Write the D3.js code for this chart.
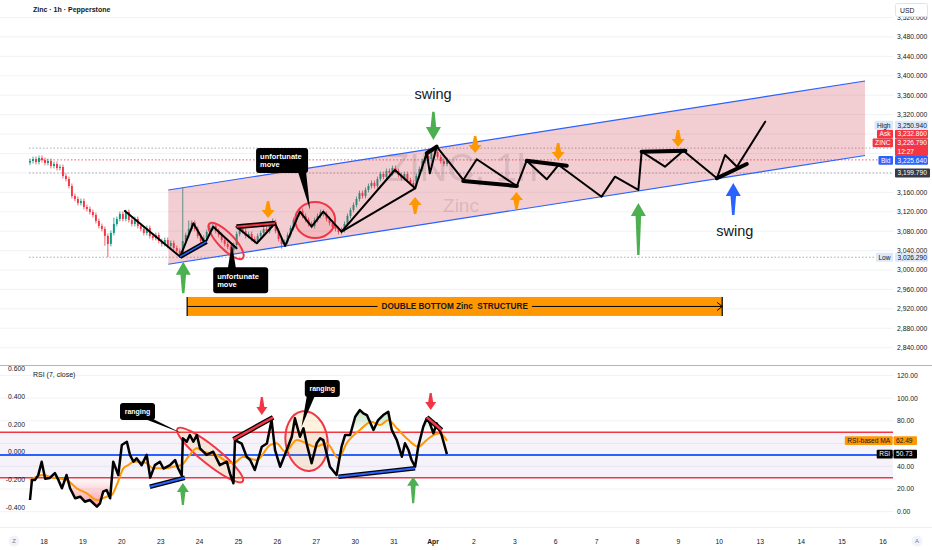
<!DOCTYPE html>
<html>
<head>
<meta charset="utf-8">
<script src="https://cdn.jsdelivr.net/npm/d3@7/dist/d3.min.js"></script>
<style>
html,body{margin:0;padding:0;background:#ffffff;overflow:hidden;}
svg{display:block;font-family:"Liberation Sans",Arial,sans-serif;}
</style>
</head>
<body>
<svg id="chart" width="932" height="550"></svg>
<script>
// ================= DATA =================
const title = "Zinc · 1h · Pepperstone";
const rsiTitle = "RSI (7, close)";
const dayLabels = ["18","19","20","23","24","25","26","27","30","31","Apr","2","3","6","7","8","9","10","13","14","15","16"];
const priceTicks = [2840,2880,2920,2960,3000,3040,3080,3120,3160,3200,3240,3280,3320,3360,3400,3440,3480,3520];
const rsiTicks = [0,20,40,60,80,100,120];
const leftTicks = [-0.4,-0.2,0,0.2,0.4,0.6];

// hourly candles (trading-day index t = candleStart + i*candleStep)
const candleStart = -0.36, candleStep = 0.077;
const firstOpen = 3221.0;
const closes = [
3224.5,3228.6,3222.4,3230.7,3226.6,3220.4,3224.5,3214.2,3218.3,3210.1,
3212.1,3193.6,3187.4,3173.0,3152.4,3146.3,3138.0,3142.1,3129.8,3125.7,
3119.5,3113.3,3101.0,3090.7,3084.5,3070.1,3053.6,3076.3,3094.8,3105.1,
3115.4,3105.1,3119.5,3103.0,3094.8,3105.1,3090.7,3084.5,3076.3,3086.6,
3070.1,3066.0,3072.1,3059.8,3053.6,3061.8,3049.5,3055.7,3045.4,3039.2,
3033.0,3059.8,3072.1,3084.5,3096.8,3084.5,3070.1,3059.8,3066.0,3078.3,
3086.6,3090.7,3080.4,3072.1,3061.8,3053.6,3047.4,3041.3,3051.6,3074.2,
3084.5,3080.4,3070.1,3074.2,3063.9,3059.8,3070.1,3076.3,3084.5,3080.4,
3092.7,3098.9,3080.4,3063.9,3053.6,3057.7,3072.1,3086.6,3103.0,3115.4,
3121.6,3111.3,3103.0,3094.8,3090.7,3103.0,3111.3,3119.5,3115.4,3105.1,
3096.8,3088.6,3084.5,3078.3,3082.4,3094.8,3111.3,3123.6,3133.9,3146.3,
3158.6,3152.4,3164.8,3173.0,3179.2,3173.0,3187.4,3197.7,3191.6,3203.9,
3199.8,3210.1,3203.9,3195.7,3189.5,3197.7,3185.4,3179.2,3173.0,3193.6,
3208.0,3224.5,3234.8,3228.6,3245.1,3243.0,3232.7,3224.5,3218.3,3226.79];
const wickHighs = [[51,3168.9],[134,3250.94],[28,3108.0],[53,3102.0],[81,3106.0]];
const wickLows = [[26,3026.29],[50,3027.5],[51,3031.0],[25,3050.0],[84,3044.0],[67,3036.0]];

const rsi = [[-0.36,10.3],[-0.31,27.9],[-0.23,28],[-0.15,32],[-0.06,44],[0.03,29],[0.15,29.7],[0.28,34],[0.37,28],[0.46,20.6],[0.58,32.3],[0.67,20.6],[0.80,11.8],[0.93,13.2],[1.05,8.8],[1.18,10.3],[1.36,4.4],[1.44,7.4],[1.52,17.6],[1.61,19.1],[1.70,11.8],[1.78,44],[1.91,32.3],[2.00,58.7],[2.13,61.6],[2.21,50],[2.30,44],[2.38,47],[2.51,41],[2.64,50],[2.73,30],[2.85,41],[2.98,44],[3.07,38],[3.24,41],[3.37,45.5],[3.45,38],[3.54,32],[3.57,64.6],[3.67,61.6],[3.75,67.5],[3.84,61.6],[3.93,67.5],[4.01,55.8],[4.18,50],[4.35,52.8],[4.52,41],[4.70,44],[4.78,33.8],[4.87,25],[4.91,63],[5.08,60],[5.21,48.4],[5.30,45.5],[5.42,36.7],[5.60,57.2],[5.73,60],[5.85,80.7],[5.94,54.3],[6.07,39.6],[6.24,54.3],[6.37,66],[6.45,82.2],[6.58,66],[6.67,73.4],[6.75,60.2],[6.88,42.6],[7.01,60.2],[7.10,64.6],[7.18,63],[7.35,39.6],[7.52,32.3],[7.65,57.2],[7.74,67.5],[7.87,67.5],[8.00,83.6],[8.12,89.5],[8.21,86.6],[8.30,85.1],[8.47,72],[8.59,80.7],[8.72,85.1],[8.85,88],[8.94,72],[9.07,63],[9.20,48.4],[9.28,60.2],[9.37,54.3],[9.45,45.5],[9.54,39.6],[9.62,57.2],[9.75,74.8],[9.84,82.2],[9.92,77.8],[10.01,69],[10.09,77.8],[10.21,67.5],[10.34,50.73]];
const rsiMA = [[-0.36,27.9],[-0.02,32.3],[0.15,30.8],[0.33,29.4],[0.58,27.9],[0.84,20.6],[1.10,16.2],[1.36,10.3],[1.61,13.2],[1.74,14.7],[1.87,23.5],[2.04,38.2],[2.17,41.1],[2.30,44],[2.47,44],[2.64,42.6],[2.81,38.2],[2.98,38.2],[3.15,38.2],[3.32,39.6],[3.54,41.1],[3.71,48.4],[3.93,55.8],[4.10,52.8],[4.27,51.4],[4.44,49.9],[4.70,44],[4.87,42.6],[5.12,48.4],[5.47,45.5],[5.81,58.7],[5.98,60.2],[6.20,52.8],[6.50,63.1],[6.75,60.2],[6.97,57.2],[7.27,60.2],[7.57,47],[7.78,60.2],[8.12,71.9],[8.42,79.2],[8.64,76.3],[8.85,80.7],[9.07,73.4],[9.37,63.1],[9.62,57.2],[9.84,63.1],[10.01,67.5],[10.17,69],[10.34,62.49]];
const rsiUpper = 70, rsiMid = 50, rsiLower = 30;
const rsiLast = 50.73, maLast = 62.49;

const currentPrice = 3226.79, prevClose = 3199.79, highValue = 3250.94, lowValue = 3026.29;
const stackLabels = [
  {name:"Bid", value:3225.64, rows:1, kind:"bid"},
  {name:"ZINC", value:3226.79, sub:"12:27", rows:2, kind:"red"},
  {name:"Ask", value:3232.86, rows:1, kind:"red"},
  {name:"High", value:3250.94, rows:1, kind:"light"}
];

// drawings (t = trading-day index, price)
const channelUpper = [[3.195,3164.8],[20.56,3389.2]];
const channelLower = [[3.195,3011.8],[20.56,3235.8]];
const zigzags = [
  [[2.08,3121.5],[3.50,3027.4]],
  [[3.50,3027.4],[3.84,3096.2],[4.14,3055.1],[4.35,3089.2],[4.95,3044.8]],
  [[4.95,3089.2],[5.47,3055.1],[5.94,3096.2],[6.20,3049.5],[6.58,3120.1],[6.88,3089.2],[7.18,3120.1],[7.65,3078.9],[9.02,3206.0],[9.54,3168.3],[9.84,3240.4],[9.92,3199.2],[10.09,3254.0]],
  [[7.65,3078.9],[9.54,3168.3]],
  [[10.09,3254.0],[10.74,3185.4],[11.07,3228.0],[12.05,3173.0],[12.29,3225.1],[12.78,3186.8],[13.07,3216.3],[14.12,3151.0],[14.45,3192.2],[15.02,3164.8],[15.10,3243.7],[15.67,3212.8],[16.12,3245.7],[16.94,3188.9],[17.14,3236.9],[17.43,3212.8],[18.12,3305.4]]
];
const boldSegs = [
  [[10.74,3183.3],[12.05,3173.0]],
  [[12.29,3225.1],[13.27,3214.8]],
  [[15.10,3243.7],[16.17,3245.7]],
  [[16.94,3188.9],[17.67,3218.3]],
  [[9.84,3240.4],[10.09,3254.0]]
];
const redCoreSegs = [[[4.95,3089.2],[5.94,3096.2]]];
const blueCoreSegs = [[[3.50,3027.4],[4.18,3058.3]]];
const mainEllipses = [[4.68,3059.8],[6.97,3103.0]];
const greenArrows = [[3.58,3017.2,2952.1],[15.02,3138.0,3031.0],[10.01,3267.7,3326.0]];
const blueArrows = [[17.34,3179.2,3113.3]];
const orangeMarks = [[5.76,3107.1,"down"],[9.54,3150.4,"up"],[11.03,3241.0,"down"],[13.06,3226.6,"down"],[15.99,3253.3,"down"],[12.04,3160.7,"up"]];
const swingLabels = [[10.0,3360.4,"swing"],[17.38,3078.3,"swing"]];
const structure = {t0:3.68, t1:17.07, pTop:2944.5, pBot:2905.4, text:"DOUBLE BOTTOM Zinc  STRUCTURE"};
const mainCallouts = [{t:6.84,p:3123.6,lines:["unfortunate","move"]},{t:4.83,p:3055.1,lines:["unfortunate","move"]}];
const rsiCallouts = [{t:3.54,v:69.0,lines:["ranging"]},{t:6.62,v:74.8,lines:["ranging"]}];
const rsiRedSegs = [[[4.87,63.7],[5.89,83.1]],[[9.84,83.1],[10.21,71.9]]];
const rsiBlueSegs = [[[7.57,30.8],[9.54,38.2]],[[2.72,22.0],[3.62,29.9]]];
const rsiEllipses = [[4.27,49.9],[6.75,62.2]];
const rsiRedArrows = [[5.60,85.1,100.9],[9.94,89.5,104.5]];
const rsiGreenArrows = [[3.57,25.3,5.9],[9.49,30.8,7.4]];

// ================= LAYOUT / STYLE =================
const PR = 893;
const TXT = "#131722";
const FS = 6.8;
const mainEllipseStyle = [{rx:24,ry:8,rot:46,fill:"rgba(242,54,69,0.06)"},{rx:20,ry:18,rot:0,fill:"rgba(242,54,69,0.12)"}];
const rsiEllipseStyle = [{rx:42,ry:9,rot:39,fill:"rgba(255,152,0,0.13)"},{rx:21,ry:30,rot:-8,fill:"rgba(255,152,0,0.13)"}];
const mainCalloutBoxes = [{dx:-54,dy:-62,w:52,h:25},{dx:-18.7,dy:24,w:55,h:26}];
const rsiCalloutBoxes = [{dx:-61.7,dy:-30.3,w:35,h:17},{dx:3.3,dy:-46.7,w:35,h:17}];

const svg = d3.select("#chart");
const x = d3.scaleLinear().domain([0,10,21]).range([44,433,883]);
const y = d3.scaleLinear().domain([2840,3520]).range([347.7,17.5]);
const yR = d3.scaleLinear().domain([0,120]).range([511.7,375.4]);
const yL = d3.scaleLinear().domain([-0.4,0.6]).range([507.3,369]);
const fmtP = d3.format(",.3f");

const defs = svg.append("defs");
defs.append("clipPath").attr("id","clipMain").append("rect").attr("x",0).attr("y",0).attr("width",PR).attr("height",365);
defs.append("clipPath").attr("id","clipRsi").append("rect").attr("x",0).attr("y",366).attr("width",PR).attr("height",161);
defs.append("clipPath").attr("id","clipOB").append("rect").attr("x",0).attr("y",yR(120)).attr("width",PR).attr("height",yR(rsiUpper)-yR(120));
defs.append("clipPath").attr("id","clipOS").append("rect").attr("x",0).attr("y",yR(rsiLower)).attr("width",PR).attr("height",yR(0)-yR(rsiLower));
const gGreen = defs.append("linearGradient").attr("id","gradOB").attr("gradientUnits","userSpaceOnUse").attr("x1",0).attr("x2",0).attr("y1",yR(100)).attr("y2",yR(rsiUpper));
gGreen.append("stop").attr("offset",0).attr("stop-color","rgba(76,175,80,0.6)");
gGreen.append("stop").attr("offset",1).attr("stop-color","rgba(76,175,80,0)");
const gRed = defs.append("linearGradient").attr("id","gradOS").attr("gradientUnits","userSpaceOnUse").attr("x1",0).attr("x2",0).attr("y1",yR(rsiLower)).attr("y2",yR(0));
gRed.append("stop").attr("offset",0).attr("stop-color","rgba(242,54,69,0)");
gRed.append("stop").attr("offset",1).attr("stop-color","rgba(242,54,69,0.6)");

svg.append("rect").attr("width",932).attr("height",550).attr("fill","#ffffff");

const lineP = d3.line().x(d=>x(d[0])).y(d=>y(d[1]));
const lineR = d3.line().x(d=>x(d[0])).y(d=>yR(d[1]));

function arrowPath(cx, yTip, yTail, headLen, headHalf, shaftHalf, tailHalf){
  const d = yTail > yTip ? 1 : -1;
  const yb = yTip + d*headLen;
  return `M${cx},${yTip}L${cx+headHalf},${yb}L${cx+shaftHalf},${yb}L${cx+tailHalf},${yTail}L${cx-tailHalf},${yTail}L${cx-shaftHalf},${yb}L${cx-headHalf},${yb}Z`;
}
function drawCallout(g, tx, ty, box, lines, fs, center){
  const bx = tx+box.dx, by = ty+box.dy;
  const below = ty > by + box.h;
  const cx = Math.max(bx+6, Math.min(bx+box.w-6, tx));
  const baseY = below ? by+box.h-1 : by+1;
  g.append("path").attr("d",`M${cx-4},${baseY}L${tx},${ty}L${cx+4},${baseY}Z`).attr("fill","#000");
  g.append("rect").attr("x",bx).attr("y",by).attr("width",box.w).attr("height",box.h).attr("rx",3).attr("fill","#000");
  const lh = fs*1.15;
  const start = by + box.h/2 - (lines.length-1)*lh/2 + fs*0.35;
  lines.forEach((s,k)=>{
    g.append("text").attr("x", center ? bx+box.w/2 : bx+4).attr("text-anchor", center?"middle":"start")
      .attr("y", start + k*lh).attr("font-size",fs).attr("font-weight","bold").attr("fill","#fff").text(s);
  });
}

// ================= MAIN PANE =================
const gMain = svg.append("g").attr("clip-path","url(#clipMain)");
gMain.selectAll("line.hg").data(priceTicks).join("line").attr("class","hg")
  .attr("x1",0).attr("x2",PR).attr("y1",d=>y(d)).attr("y2",d=>y(d)).attr("stroke","#f0f2f6").attr("stroke-width",1);

// watermark
gMain.append("text").attr("x",462).attr("y",181).attr("text-anchor","middle").attr("font-size",38)
  .attr("fill","#787b86").attr("fill-opacity",0.24).text("ZINC, 1h");
gMain.append("text").attr("x",461).attr("y",212).attr("text-anchor","middle").attr("font-size",19)
  .attr("fill","#787b86").attr("fill-opacity",0.24).text("Zinc");

// candles
const hiMap = new Map(wickHighs), loMap = new Map(wickLows);
const candles = closes.map((c,i)=>{
  const o = i ? closes[i-1] : firstOpen;
  return {t:candleStart+i*candleStep, o, c,
    h: hiMap.has(i) ? hiMap.get(i) : Math.max(o,c)+5,
    l: loMap.has(i) ? loMap.get(i) : Math.min(o,c)-5};
});
const col = d => d.c >= d.o ? "#089981" : "#f23645";
const gc = gMain.append("g");
gc.selectAll("line").data(candles).join("line")
  .attr("x1",d=>x(d.t)).attr("x2",d=>x(d.t)).attr("y1",d=>y(d.h)).attr("y2",d=>y(d.l))
  .attr("stroke",col).attr("stroke-width",0.8);
gc.selectAll("rect").data(candles).join("rect")
  .attr("x",d=>x(d.t)-0.95).attr("width",1.9)
  .attr("y",d=>y(Math.max(d.o,d.c))).attr("height",d=>Math.max(0.8,Math.abs(y(d.o)-y(d.c))))
  .attr("fill",col);

// horizontal reference lines
const refLines = [[highValue,"#9598a1"],[currentPrice,"#f23645"],[prevClose,"#9598a1"],[lowValue,"#9598a1"]];
gMain.selectAll("line.ref").data(refLines).join("line").attr("class","ref")
  .attr("x1",x(candleStart)-1).attr("x2",PR).attr("y1",d=>y(d[0])).attr("y2",d=>y(d[0]))
  .attr("stroke",d=>d[1]).attr("stroke-width",1).attr("stroke-dasharray","1.5,2").attr("opacity",0.8);

// channel
const chPts = [channelUpper[0],channelUpper[1],channelLower[1],channelLower[0]];
gMain.append("path").attr("d", lineP(chPts)+"Z").attr("fill","rgba(205,60,80,0.26)");
[channelUpper, channelLower].forEach(l=>{
  gMain.append("path").attr("d",lineP(l)).attr("stroke","#2962ff").attr("stroke-width",1.2).attr("fill","none");
});

// ellipses
mainEllipses.forEach((e,i)=>{
  const s = mainEllipseStyle[i];
  gMain.append("ellipse").attr("cx",0).attr("cy",0).attr("rx",s.rx).attr("ry",s.ry)
    .attr("transform",`translate(${x(e[0])},${y(e[1])}) rotate(${s.rot})`)
    .attr("fill",s.fill).attr("stroke","#f23645").attr("stroke-width",2);
});

// zigzag drawings
zigzags.forEach(l=>{
  gMain.append("path").attr("d",lineP(l)).attr("fill","none").attr("stroke","#000").attr("stroke-width",2)
    .attr("stroke-linejoin","round").attr("stroke-linecap","round");
});
boldSegs.forEach(l=>{
  gMain.append("path").attr("d",lineP(l)).attr("fill","none").attr("stroke","#000").attr("stroke-width",4).attr("stroke-linecap","round");
});
redCoreSegs.forEach(l=>{
  gMain.append("path").attr("d",lineP(l)).attr("fill","none").attr("stroke","#000").attr("stroke-width",5);
  gMain.append("path").attr("d",lineP(l)).attr("fill","none").attr("stroke","#f23645").attr("stroke-width",2);
});
blueCoreSegs.forEach(l=>{
  gMain.append("path").attr("d",lineP(l)).attr("fill","none").attr("stroke","#000").attr("stroke-width",4.5);
  gMain.append("path").attr("d",lineP(l)).attr("fill","none").attr("stroke","#2962ff").attr("stroke-width",1.5);
});

// arrows
greenArrows.forEach(a=>{
  gMain.append("path").attr("d",arrowPath(x(a[0]),y(a[1]),y(a[2]),13,7.5,2.8,1.2)).attr("fill","#4caf50");
});
blueArrows.forEach(a=>{
  gMain.append("path").attr("d",arrowPath(x(a[0]),y(a[1]),y(a[2]),13,7.5,2.8,1.2)).attr("fill","#2962ff");
});
orangeMarks.forEach(a=>{
  const tip = y(a[1]);
  const tail = a[2]==="down" ? tip-17 : tip+17;
  gMain.append("path").attr("d",arrowPath(x(a[0]),tip,tail,8,6.5,3,1.2)).attr("fill","#ff9800");
});

// swing labels
swingLabels.forEach(s=>{
  gMain.append("text").attr("x",x(s[0])).attr("y",y(s[1])+4).attr("text-anchor","middle")
    .attr("font-size",14.5).attr("fill",TXT).text(s[2]);
});

// callouts
mainCallouts.forEach((c,i)=> drawCallout(gMain, x(c.t), y(c.p), mainCalloutBoxes[i], c.lines, 7.5, false));

// structure bar
{
  const x0 = x(structure.t0), x1 = x(structure.t1), yt = y(structure.pTop), yb = y(structure.pBot), ym = (yt+yb)/2;
  gMain.append("rect").attr("x",x0).attr("y",yt).attr("width",x1-x0).attr("height",yb-yt).attr("fill","#ff9800");
  const t = gMain.append("text").attr("x",(x0+x1)/2).attr("y",ym+3).attr("text-anchor","middle")
    .attr("font-size",8.2).attr("font-weight","bold").attr("fill","#131722").style("white-space","pre").text(structure.text);
  let tw = 158; try { tw = t.node().getComputedTextLength(); } catch(e){}
  const cxm = (x0+x1)/2;
  gMain.append("line").attr("x1",x0).attr("x2",cxm-tw/2-4).attr("y1",ym).attr("y2",ym).attr("stroke","#000").attr("stroke-width",1);
  gMain.append("line").attr("x1",cxm+tw/2+4).attr("x2",x1).attr("y1",ym).attr("y2",ym).attr("stroke","#000").attr("stroke-width",1);
  gMain.append("path").attr("d",`M${x1-5},${ym-4}L${x1},${ym}L${x1-5},${ym+4}`).attr("fill","none").attr("stroke","#000").attr("stroke-width",1);
  [x0,x1].forEach(xx=> gMain.append("line").attr("x1",xx).attr("x2",xx).attr("y1",yt).attr("y2",yb).attr("stroke","#000").attr("stroke-width",1.2));
}

// title
svg.append("text").attr("x",33).attr("y",11.5).attr("font-size",7).attr("font-weight","600").attr("fill",TXT).text(title);

// ================= RSI PANE =================
svg.append("line").attr("x1",0).attr("x2",932).attr("y1",365.5).attr("y2",365.5).attr("stroke","#b2b5be").attr("stroke-width",1);
const gR = svg.append("g").attr("clip-path","url(#clipRsi)");
gR.selectAll("line.rg").data(rsiTicks).join("line").attr("class","rg")
  .attr("x1",0).attr("x2",PR).attr("y1",d=>yR(d)).attr("y2",d=>yR(d)).attr("stroke","#f0f2f6");
gR.append("rect").attr("x",0).attr("width",PR).attr("y",yR(rsiUpper)).attr("height",yR(rsiLower)-yR(rsiUpper)).attr("fill","rgba(126,87,194,0.08)");
gR.append("line").attr("x1",0).attr("x2",PR).attr("y1",yR(rsiUpper)).attr("y2",yR(rsiUpper)).attr("stroke","#f23645").attr("stroke-width",1.5);
gR.append("line").attr("x1",0).attr("x2",PR).attr("y1",yR(rsiLower)).attr("y2",yR(rsiLower)).attr("stroke","#f23645").attr("stroke-width",1.5);
gR.append("line").attr("x1",0).attr("x2",PR).attr("y1",yR(rsiMid)).attr("y2",yR(rsiMid)).attr("stroke","#2962ff").attr("stroke-width",2);

// overbought / oversold fills
gR.append("path").attr("clip-path","url(#clipOB)")
  .attr("d", d3.area().x(d=>x(d[0])).y0(yR(rsiUpper)).y1(d=>yR(d[1]))(rsi)).attr("fill","url(#gradOB)");
gR.append("path").attr("clip-path","url(#clipOS)")
  .attr("d", d3.area().x(d=>x(d[0])).y0(yR(rsiLower)).y1(d=>yR(d[1]))(rsi)).attr("fill","url(#gradOS)");

rsiEllipses.forEach((e,i)=>{
  const s = rsiEllipseStyle[i];
  gR.append("ellipse").attr("cx",0).attr("cy",0).attr("rx",s.rx).attr("ry",s.ry)
    .attr("transform",`translate(${x(e[0])},${yR(e[1])}) rotate(${s.rot})`)
    .attr("fill",s.fill).attr("stroke","#f23645").attr("stroke-width",2);
});

gR.append("path").attr("d", d3.line().x(d=>x(d[0])).y(d=>yR(d[1])).curve(d3.curveMonotoneX)(rsiMA))
  .attr("fill","none").attr("stroke","#ff9800").attr("stroke-width",2);
gR.append("path").attr("d", lineR(rsi)).attr("fill","none").attr("stroke","#000").attr("stroke-width",2.5).attr("stroke-linejoin","round");

rsiRedSegs.forEach(l=>{
  gR.append("path").attr("d",lineR(l)).attr("stroke","#000").attr("stroke-width",5).attr("fill","none");
  gR.append("path").attr("d",lineR(l)).attr("stroke","#f23645").attr("stroke-width",2.5).attr("fill","none");
});
rsiBlueSegs.forEach(l=>{
  gR.append("path").attr("d",lineR(l)).attr("stroke","#000").attr("stroke-width",4.5).attr("fill","none");
  gR.append("path").attr("d",lineR(l)).attr("stroke","#2962ff").attr("stroke-width",2).attr("fill","none");
});
rsiRedArrows.forEach(a=>{
  gR.append("path").attr("d",arrowPath(x(a[0]),yR(a[1]),yR(a[2]),8,5.5,2.5,1)).attr("fill","#f23645");
});
rsiGreenArrows.forEach(a=>{
  gR.append("path").attr("d",arrowPath(x(a[0]),yR(a[1]),yR(a[2]),9,6,2.5,1)).attr("fill","#4caf50");
});
rsiCallouts.forEach((c,i)=> drawCallout(gR, x(c.t), yR(c.v), rsiCalloutBoxes[i], c.lines, 7, true));

svg.append("text").attr("x",33).attr("y",376.5).attr("font-size",7).attr("fill",TXT).text(rsiTitle);

// left axis (RSI pane)
svg.selectAll("text.lt").data(leftTicks).join("text").attr("class","lt")
  .attr("x",25).attr("y",d=>yL(d)+2.4).attr("text-anchor","end").attr("font-size",FS).attr("fill",TXT)
  .text(d=>d3.format(".3f")(d).replace("−","-"));

// ================= RIGHT AXIS =================
const rowH = 8.8;
let bottom = y(stackLabels[0].value) + rowH/2;
const gLab = svg.append("g");
const kindStyle = {bid:{bg:"#2962ff",fg:"#fff"}, red:{bg:"#f23645",fg:"#fff"}, light:{bg:"#dde9f8",fg:TXT}, dark:{bg:"#363a45",fg:"#fff"}};
function nameBox(name, top, h, st, rightX){
  const t = gLab.append("text").attr("y",top+h/2+2.3).attr("font-size",6.6).attr("fill",st.fg).attr("text-anchor","end").attr("x",rightX-2.5).text(name);
  let w = 14; try { w = t.node().getComputedTextLength(); } catch(e){}
  gLab.insert("rect","text").attr("x",rightX-w-5).attr("y",top).attr("width",w+5).attr("height",h).attr("fill",st.bg).attr("rx",1);
  t.raise();
}
function valueBox(lines, top, h, st, x0, w){
  gLab.append("rect").attr("x",x0).attr("y",top).attr("width",w).attr("height",h).attr("fill",st.bg).attr("rx",1);
  lines.forEach((s,k)=> gLab.append("text").attr("x",x0+2.5).attr("y",top+rowH*k+rowH/2+2.3).attr("font-size",6.6).attr("fill",st.fg).text(s));
}
const tickLabelsMain = priceTicks.filter(p=>{
  const yy = y(p);
  return !(yy > y(stackLabels[3].value)-30 && yy < y(prevClose)+6);
});
svg.selectAll("text.pt").data(tickLabelsMain).join("text").attr("class","pt")
  .attr("x",897).attr("y",d=>y(d)+2.4).attr("font-size",FS).attr("fill",TXT).text(d=>fmtP(d));

stackLabels.forEach(d=>{
  const h = d.rows*rowH;
  const top = bottom - h;
  const st = kindStyle[d.kind];
  nameBox(d.name, top, rowH, st, 893);
  valueBox(d.sub ? [fmtP(d.value), d.sub] : [fmtP(d.value)], top, h, st, 895, 33);
  bottom = top;
});
valueBox([fmtP(prevClose)], y(prevClose)-rowH/2, rowH, kindStyle.dark, 895, 35);
nameBox("Low", y(lowValue)-rowH/2, rowH, kindStyle.light, 893);
valueBox([fmtP(lowValue)], y(lowValue)-rowH/2, rowH, kindStyle.light, 895, 33);

// RSI right axis
svg.selectAll("text.rt").data(rsiTicks.filter(v=>Math.abs(yR(v)-yR(maLast))>6 && Math.abs(yR(v)-yR(rsiLast))>6)).join("text").attr("class","rt")
  .attr("x",897).attr("y",d=>yR(d)+2.4).attr("font-size",FS).attr("fill",TXT).text(d=>d3.format(".2f")(d));
nameBox("RSI-based MA", yR(maLast)-rowH/2, rowH, {bg:"#ff9800",fg:TXT}, 892.7);
valueBox([d3.format(".2f")(maLast)], yR(maLast)-rowH/2, rowH, {bg:"#ff9800",fg:TXT}, 893.5, 23.5);
nameBox("RSI", yR(rsiLast)-rowH/2, rowH, {bg:"#000",fg:"#fff"}, 892.7);
valueBox([d3.format(".2f")(rsiLast)], yR(rsiLast)-rowH/2, rowH, {bg:"#000",fg:"#fff"}, 893.5, 23.5);

// USD button
svg.append("rect").attr("x",895.5).attr("y",3.5).attr("width",32).attr("height",13).attr("rx",2).attr("fill","#fff").attr("stroke","#e0e3eb");
svg.append("text").attr("x",900).attr("y",12.5).attr("font-size",6.8).attr("fill",TXT).text("USD");

// ================= TIME AXIS =================
svg.append("line").attr("x1",0).attr("x2",932).attr("y1",527.5).attr("y2",527.5).attr("stroke","#eef0f4");
svg.selectAll("text.dl").data(dayLabels).join("text").attr("class","dl")
  .attr("x",(d,i)=>x(i)).attr("y",543.5).attr("text-anchor","middle").attr("font-size",FS)
  .attr("font-weight",d=>d==="Apr"?"bold":"normal").attr("fill",TXT).text(d=>d);
[[14,"Z"],[917,"A"]].forEach(c=>{
  svg.append("circle").attr("cx",c[0]).attr("cy",541).attr("r",5.5).attr("fill","#f0f3fa");
  svg.append("text").attr("x",c[0]).attr("y",543.3).attr("text-anchor","middle").attr("font-size",6).attr("fill","#787b86").text(c[1]);
});
</script>
</body>
</html>
